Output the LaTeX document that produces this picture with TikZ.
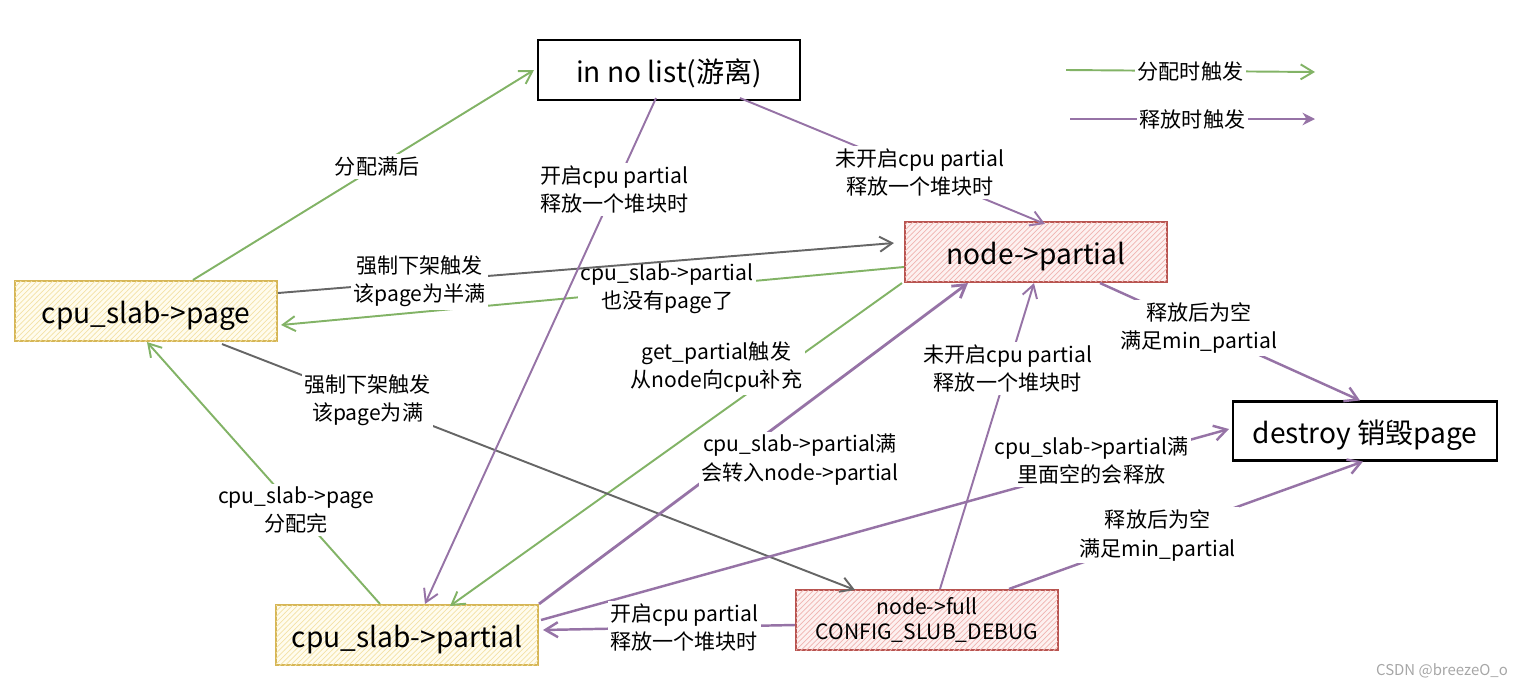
\documentclass[tikz,border=0pt]{standalone}
\usepackage{fontspec}
\setmainfont{Noto Sans CJK SC}
\usetikzlibrary{arrows.meta, calc, patterns}

\definecolor{allocgreen}{HTML}{82B366}
\definecolor{freepurple}{HTML}{9673A6}
\definecolor{forcegray}{HTML}{666666}
\definecolor{slabline}{HTML}{D6B656}
\definecolor{slabfill}{HTML}{FFFCEE}
\definecolor{slabhatch}{HTML}{F3E2A6}
\definecolor{nodeline}{HTML}{B85450}
\definecolor{nodefill}{HTML}{FDF1F0}
\definecolor{nodehatch}{HTML}{F0B4B1}

\begin{document}
\begin{tikzpicture}[
    x=0.02cm, y=-0.02cm,
    box/.style={draw, line width=1.2pt, align=center, inner sep=0pt, minimum width=5.24cm, minimum height=1.2cm, font=\fontsize{16}{19}\selectfont},
    oneline/.style={text height=16pt, text depth=2pt},
    slabbox/.style={box, draw=slabline, fill=slabfill, postaction={pattern=north east lines, pattern color=slabhatch}},
    nodebox/.style={box, draw=nodeline, fill=nodefill, postaction={pattern=north east lines, pattern color=nodehatch}},
    lbl/.style={fill=white, inner sep=1.5pt, align=center, font=\fontsize{12}{16}\selectfont},
    allocline/.style={draw=allocgreen, line width=1.1pt, -{Straight Barb[length=2.5mm, width=3mm]}},
    freeline/.style={draw=freepurple, line width=1.1pt, -{Straight Barb[length=2.5mm, width=3mm]}},
    forceline/.style={draw=forcegray, line width=1.1pt, -{Straight Barb[length=2.5mm, width=3mm]}}
]
    \useasboundingbox (0,0) rectangle (1519,687);

    % States
    \node[box, oneline] (nolist) at (669,70) {in no list(游离)};
    \node[nodebox, oneline] (nodepartial) at (1036,252) {node->partial};
    \node[slabbox, oneline] (cpupage) at (146,311) {cpu\_slab->page};
    \node[box, oneline, minimum width=5.28cm, minimum height=1.18cm] (destroy) at (1365,431) {destroy 销毁page};
    \node[slabbox, oneline] (cpupartial) at (407,635) {cpu\_slab->partial};
    \node[nodebox, font=\fontsize{12}{14}\selectfont] (nodefull) at (927,620) {node->full\\CONFIG\_SLUB\_DEBUG};

    % Legend
    \coordinate (allocfrom) at (1066,70);
    \coordinate (allocto) at (1315,72);
    \coordinate (freefrom) at (1070,119);
    \coordinate (freeto) at (1315,119);
    \draw[allocline] (allocfrom) -- node[lbl] (alloclegend) {分配时触发} (allocto);
    \draw[freeline, -{Stealth[length=2.5mm, width=2.5mm]}] (freefrom) -- node[lbl] (freelegend) {释放时触发} (freeto);

    % Allocation (green)
    \draw[allocline] ($(cpupage.north)+(47,0)$) -- node[lbl, pos=0.54] (fullnote) {分配满后} ($(nolist.west)+(-3,0)$);
    \draw[allocline] ($(nodepartial.west)+(0,15)$) -- node[lbl, pos=0.38] (emptynote) {cpu\_slab->partial\\也没有page了} ($(cpupage.east)+(3,14)$);
    \draw[allocline] ($(cpupartial.north)+(-27,0)$) -- node[lbl, pos=0.36] (usednote) {cpu\_slab->page\\分配完} ($(cpupage.south)+(1,0)$);
    \draw[allocline] ($(nodepartial.south west)+(-2,0)$) -- node[lbl, pos=0.26, xshift=-1.36cm] (refillnote) {get\_partial触发\\从node向cpu补充} ($(cpupartial.north)+(43,2)$);

    % Forced unfreeze (gray)
    \draw[forceline] ($(cpupage.east)+(0,-18)$) -- node[lbl, pos=0.23] (halfnote) {强制下架触发\\该page为半满} ($(nodepartial.west)+(-10,-9)$);
    \draw[forceline] ($(cpupage.south)+(76,2)$) -- node[lbl, pos=0.23] (wholenote) {强制下架触发\\该page为满} ($(nodefull.north)+(-72,1)$);

    % Free (purple)
    \draw[freeline] ($(nolist.south)+(-13,-3)$) -- node[lbl, pos=0.18] (cpuonnote) {开启cpu partial\\释放一个堆块时} ($(cpupartial.north)+(18,0)$);
    \draw[freeline] ($(nolist.south)+(71,-3)$) -- node[lbl, pos=0.59] (cpuoffnote) {未开启cpu partial\\释放一个堆块时} ($(nodepartial.north)+(9,3)$);
    \draw[freeline, line width=1.6pt] ($(cpupartial.north east)+(0,0)$) -- node[lbl, pos=0.45, xshift=1.36cm] (movenote) {cpu\_slab->partial满\\会转入node->partial} ($(nodepartial.south)+(-68,0)$);
    \draw[freeline] ($(nodefull.north)+(13,0)$) -- node[lbl, pos=0.72] (fulloffnote) {未开启cpu partial\\释放一个堆块时} ($(nodepartial.south)+(-2,0)$);
    \draw[freeline, line width=1.4pt] ($(nodepartial.south)+(64,0)$) -- node[lbl, pos=0.38] (minnote) {释放后为空\\满足min\_partial} ($(destroy.north)+(-5,0)$);
    \draw[freeline, line width=1.4pt] ($(cpupartial.east)+(2,-15)$) -- node[lbl, pos=0.8, yshift=0.14cm] (dropnote) {cpu\_slab->partial满\\里面空的会释放} ($(destroy.west)+(-3,-2)$);
    \draw[freeline, line width=1.4pt] ($(nodefull.north east)+(-50,0)$) -- node[lbl, pos=0.42] (fullminnote) {释放后为空\\满足min\_partial} ($(destroy.south)+(-2,0)$);
    \draw[freeline, line width=1.4pt] ($(nodefull.west)+(0,5)$) -- node[lbl, pos=0.44] (fullonnote) {开启cpu partial\\释放一个堆块时} ($(cpupartial.east)+(4,-5)$);

    % Watermark
    \node[font=\fontsize{8.5}{10}\selectfont, text=gray!70] (mark) at (1442,671) {CSDN @breezeO\_o};
\end{tikzpicture}
\end{document}
